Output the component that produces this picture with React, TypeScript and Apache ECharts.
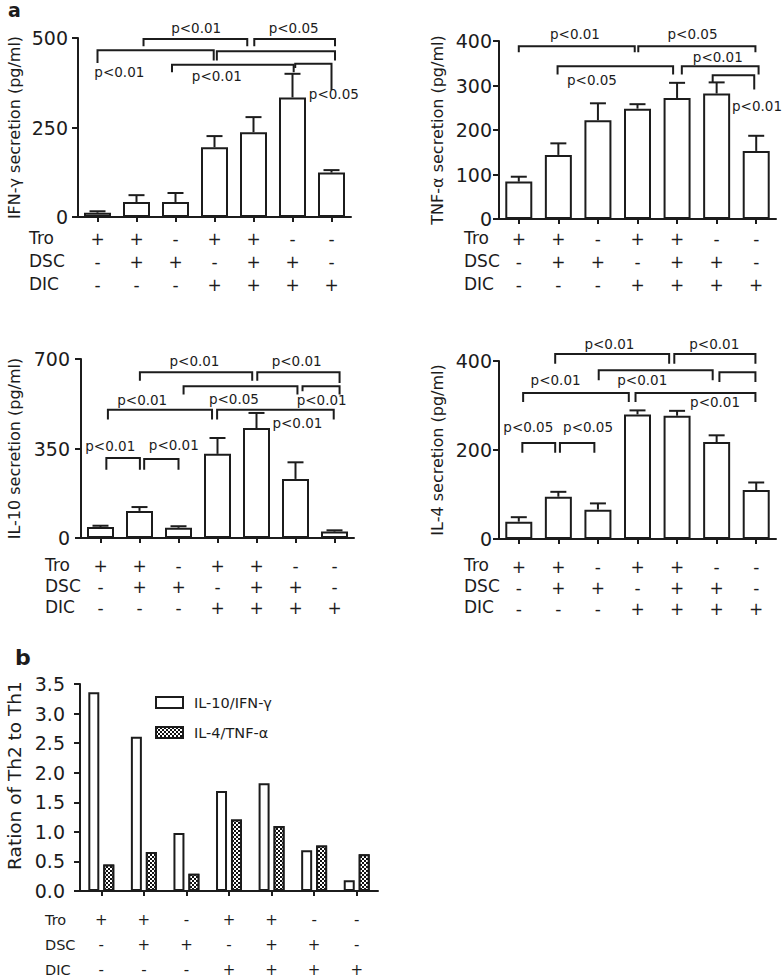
import React, { useEffect, useRef } from 'react';
import * as echarts from 'echarts';

// ---- condition table ----
const tro = ['+', '+', '-', '+', '+', '-', '-'];
const dsc = ['-', '+', '+', '-', '+', '+', '-'];
const dic = ['-', '-', '-', '+', '+', '+', '+'];
const rowNames = ['Tro', 'DSC', 'DIC'];
const conditionLabels = tro.map((t, i) => `${t}\n${dsc[i]}\n${dic[i]}`);

// ---- panel a values (mean, mean + SD) ----
const ifnMean = [12, 42, 42, 195, 237, 334, 124];
const ifnErr = [16, 61, 67, 226, 279, 400, 131];
const tnfMean = [84, 144, 222, 248, 272, 282, 153];
const tnfErr = [95, 170, 260, 258, 306, 307, 187];
const il10Mean = [43, 106, 40, 329, 430, 231, 25];
const il10Err = [48, 121, 46, 391, 489, 296, 30];
const il4Mean = [39, 95, 66, 280, 277, 218, 110];
const il4Err = [49, 106, 80, 289, 288, 233, 127];

// ---- panel b values ----
const ratioIl10Ifn = [3.36, 2.61, 0.98, 1.69, 1.82, 0.69, 0.18];
const ratioIl4Tnf = [0.45, 0.66, 0.29, 1.21, 1.1, 0.77, 0.62];

// ---- significance brackets: [x1, x2, y, leftEndY, rightEndY] (category index, value) ----
type Bracket = [number, number, number, number, number];
type PLabel = [number, number, string];

const ifnBrackets: Bracket[] = [
  [0, 2.98, 466, 430, 437],
  [1.18, 3.84, 497, 477, 477],
  [4.02, 6.09, 497, 477, 477],
  [3.06, 6.09, 463, 437, 437],
  [1.91, 5.03, 425, 404, 404],
  [5.07, 6.0, 428, 416, 355],
];
const ifnLabels: PLabel[] = [
  [0.56, 404, 'p<0.01'],
  [2.53, 528, 'p<0.01'],
  [5.03, 528, 'p<0.05'],
  [3.06, 393, 'p<0.01'],
  [6.06, 344, 'p<0.05'],
];
const tnfBrackets: Bracket[] = [
  [0, 2.93, 388, 375, 375],
  [3.02, 5.98, 388, 375, 375],
  [0.98, 3.9, 343, 325, 325],
  [4.12, 6.06, 343, 325, 325],
  [4.9, 5.95, 323, 306, 291],
];
const tnfLabels: PLabel[] = [
  [1.42, 416, 'p<0.01'],
  [4.39, 416, 'p<0.05'],
  [1.85, 312, 'p<0.05'],
  [5.03, 364, 'p<0.01'],
  [6.02, 254, 'p<0.01'],
];
const il10Brackets: Bracket[] = [
  [1.01, 3.89, 648, 615, 615],
  [4.02, 6.13, 648, 615, 606],
  [2.13, 5.05, 593, 561, 561],
  [5.18, 6.13, 593, 574, 561],
  [0.19, 2.86, 502, 463, 463],
  [2.99, 5.98, 502, 463, 463],
  [0.15, 1.01, 313, 267, 267],
  [1.12, 2.0, 309, 267, 267],
];
const il10Labels: PLabel[] = [
  [2.41, 691, 'p<0.01'],
  [5.03, 691, 'p<0.01'],
  [3.42, 545, 'p<0.05'],
  [1.07, 541, 'p<0.01'],
  [5.05, 450, 'p<0.01'],
  [5.67, 541, 'p<0.01'],
  [0.25, 358, 'p<0.01'],
  [1.88, 365, 'p<0.01'],
];
const il4Brackets: Bracket[] = [
  [0.92, 3.8, 416, 394, 394],
  [3.93, 5.98, 416, 394, 394],
  [2.02, 4.9, 379, 357, 357],
  [5.07, 5.98, 375, 353, 353],
  [0.11, 2.78, 328, 308, 308],
  [2.95, 5.98, 328, 308, 308],
  [0.09, 0.92, 216, 194, 194],
  [1.04, 1.91, 216, 194, 194],
];
const il4Labels: PLabel[] = [
  [2.29, 439, 'p<0.01'],
  [4.94, 439, 'p<0.01'],
  [0.93, 358, 'p<0.01'],
  [3.12, 357, 'p<0.01'],
  [4.96, 308, 'p<0.01'],
  [0.24, 252, 'p<0.05'],
  [1.75, 252, 'p<0.05'],
];

const FONT = 'DejaVu Sans';
const INK = '#1c1c1c';

const panels = [
  {
    name: 'IFN-γ secretion (pg/ml)', mean: ifnMean, err: ifnErr, brackets: ifnBrackets, labels: ifnLabels,
    max: 500, interval: 250,
    grid: { left: 78, top: 38, width: 273, height: 179 },
    nameGap: 56, tickMargin: 10, rowMargin: 10, lineHeight: 23, rowX: 29, rowY0: 239,
  },
  {
    name: 'TNF-α secretion (pg/ml)', mean: tnfMean, err: tnfErr, brackets: tnfBrackets, labels: tnfLabels,
    max: 400, interval: 100,
    grid: { left: 499, top: 41, width: 277, height: 178 },
    nameGap: 54, tickMargin: 7, rowMargin: 8.5, lineHeight: 23, rowX: 464, rowY0: 239,
  },
  {
    name: 'IL-10 secretion (pg/ml)', mean: il10Mean, err: il10Err, brackets: il10Brackets, labels: il10Labels,
    max: 700, interval: 350,
    grid: { left: 81, top: 359, width: 273, height: 179 },
    nameGap: 59, tickMargin: 11, rowMargin: 18, lineHeight: 20.7, rowX: 45, rowY0: 566.7,
  },
  {
    name: 'IL-4 secretion (pg/ml)', mean: il4Mean, err: il4Err, brackets: il4Brackets, labels: il4Labels,
    max: 400, interval: 200,
    grid: { left: 499, top: 361, width: 277, height: 178 },
    nameGap: 54, tickMargin: 7, rowMargin: 17, lineHeight: 21, rowX: 464, rowY0: 566.7,
  },
];

const panelB = {
  grid: { left: 80, top: 684, width: 298, height: 207 },
  rowX: 45, rowY0: 920, lineHeight: 25, rowMargin: 16.5,
};

function buildOption(): any {
  const grids: any[] = [];
  const xAxes: any[] = [];
  const yAxes: any[] = [];
  const series: any[] = [];
  const graphics: any[] = [];

  const axisLine = { show: true, onZero: false, lineStyle: { color: INK, width: 2 } };

  panels.forEach((p, i) => {
    grids.push({ ...p.grid, containLabel: false, outerBoundsMode: 'none' });
    xAxes.push({
      type: 'category', gridIndex: i, data: conditionLabels,
      axisLine, axisTick: { show: true, alignWithLabel: true, length: 5, lineStyle: { color: INK, width: 2 } },
      axisLabel: { interval: 0, margin: p.rowMargin, color: INK, fontFamily: FONT, fontSize: 17, lineHeight: p.lineHeight },
      splitLine: { show: false },
    });
    xAxes.push({ type: 'value', gridIndex: i, min: -0.5, max: 6.5, show: false, splitLine: { show: false } });
    yAxes.push({
      type: 'value', gridIndex: i, min: 0, max: p.max, interval: p.interval,
      name: p.name, nameLocation: 'middle', nameGap: p.nameGap,
      nameTextStyle: { color: INK, fontFamily: FONT, fontSize: 16 },
      axisLine, axisTick: { show: true, length: 6, lineStyle: { color: INK, width: 2 } },
      axisLabel: { margin: p.tickMargin, color: INK, fontFamily: FONT, fontSize: 19 },
      splitLine: { show: false },
    });
    series.push({
      type: 'bar', xAxisIndex: 2 * i, yAxisIndex: i, data: p.mean, barWidth: 27,
      itemStyle: { color: '#ffffff', borderColor: INK, borderWidth: 2 },
      z: 2,
    });
    const err = p.err;
    series.push({
      type: 'custom', xAxisIndex: 2 * i, yAxisIndex: i, clip: false, z: 3,
      encode: { x: 0, y: [1, 2] },
      data: p.mean.map((m, j) => [j, m, err[j]]),
      renderItem: (params: any, api: any) => {
        const x = api.value(0);
        const a = api.coord([x, api.value(1)]);
        const b = api.coord([x, api.value(2)]);
        const st = { stroke: INK, lineWidth: 2 };
        return {
          type: 'group',
          children: [
            { type: 'line', shape: { x1: a[0], y1: a[1], x2: b[0], y2: b[1] }, style: st },
            { type: 'line', shape: { x1: b[0] - 8, y1: b[1], x2: b[0] + 8, y2: b[1] }, style: st },
          ],
        };
      },
    });
    series.push({
      type: 'custom', xAxisIndex: 2 * i + 1, yAxisIndex: i, clip: false, z: 4,
      encode: { x: [0, 1], y: [2, 3, 4] },
      data: p.brackets,
      renderItem: (params: any, api: any) => {
        const x1 = api.value(0), x2 = api.value(1), y = api.value(2), yl = api.value(3), yr = api.value(4);
        const pts = [api.coord([x1, yl]), api.coord([x1, y]), api.coord([x2, y]), api.coord([x2, yr])];
        return { type: 'polyline', shape: { points: pts }, style: { stroke: INK, lineWidth: 2, fill: null } };
      },
    });
    const labels = p.labels;
    series.push({
      type: 'custom', xAxisIndex: 2 * i + 1, yAxisIndex: i, clip: false, z: 5,
      encode: { x: 0, y: 1 },
      data: labels.map((l) => [l[0], l[1]]),
      renderItem: (params: any, api: any) => {
        const c = api.coord([api.value(0), api.value(1)]);
        return {
          type: 'text', x: c[0], y: c[1],
          style: { text: labels[params.dataIndex][2], fill: INK, fontFamily: FONT, fontSize: 13.5, align: 'center', verticalAlign: 'middle' },
        };
      },
    });
    rowNames.forEach((r, k) => {
      graphics.push({
        type: 'text', left: p.rowX, top: p.rowY0 + k * p.lineHeight - 10,
        style: { text: r, fill: INK, fontFamily: FONT, fontSize: 17 },
      });
    });
  });

  // panel b
  const bi = 4;
  grids.push({ ...panelB.grid, containLabel: false, outerBoundsMode: 'none' });
  xAxes.push({
    type: 'category', gridIndex: bi, data: conditionLabels,
    axisLine, axisTick: { show: true, alignWithLabel: true, length: 5, lineStyle: { color: INK, width: 2 } },
    axisLabel: { interval: 0, margin: panelB.rowMargin, color: INK, fontFamily: FONT, fontSize: 15, lineHeight: panelB.lineHeight },
    splitLine: { show: false },
  });
  yAxes.push({
    type: 'value', gridIndex: bi, min: 0, max: 3.5, interval: 0.5,
    name: 'Ration of Th2 to Th1', nameLocation: 'middle', nameGap: 56,
    nameTextStyle: { color: INK, fontFamily: FONT, fontSize: 18.5, padding: [0, 0, 0, 24] },
    axisLine, axisTick: { show: true, length: 6, lineStyle: { color: INK, width: 2 } },
    axisLabel: { margin: 15, color: INK, fontFamily: FONT, fontSize: 19, formatter: (v: number) => v.toFixed(1) },
    splitLine: { show: false },
  });
  series.push({
    name: 'IL-10/IFN-γ', type: 'bar', xAxisIndex: 2 * bi, yAxisIndex: bi, data: ratioIl10Ifn,
    barWidth: 11, barGap: '36%',
    itemStyle: { color: '#ffffff', borderColor: INK, borderWidth: 2 },
  });
  series.push({
    name: 'IL-4/TNF-α', type: 'bar', xAxisIndex: 2 * bi, yAxisIndex: bi, data: ratioIl4Tnf,
    barWidth: 11, barGap: '36%',
    itemStyle: {
      color: '#111111', borderColor: INK, borderWidth: 2,
      decal: { symbol: 'rect', symbolSize: 1, color: '#ffffff', backgroundColor: '#111111', dashArrayX: [[2, 2], [0, 2, 2, 0]], dashArrayY: [2, 0] },
    },
  });
  rowNames.forEach((r, k) => {
    graphics.push({
      type: 'text', left: panelB.rowX, top: panelB.rowY0 + k * panelB.lineHeight - 8,
      style: { text: r, fill: INK, fontFamily: FONT, fontSize: 14.5 },
    });
  });

  graphics.push({ type: 'text', left: 8, top: 0, style: { text: 'a', fill: INK, fontFamily: FONT, fontSize: 19, fontWeight: 'bold' } });
  graphics.push({ type: 'text', left: 15, top: 646, style: { text: 'b', fill: INK, fontFamily: FONT, fontSize: 22, fontWeight: 'bold' } });

  return {
    animation: false,
    backgroundColor: '#ffffff',
    textStyle: { fontFamily: FONT, color: INK },
    grid: grids,
    xAxis: xAxes,
    yAxis: yAxes,
    legend: {
      show: true, orient: 'vertical', left: 150, top: 690, itemWidth: 27, itemHeight: 11, itemGap: 15,
      icon: 'rect', selectedMode: false,
      data: ['IL-10/IFN-γ', 'IL-4/TNF-α'],
      textStyle: { color: INK, fontFamily: FONT, fontSize: 14.5, padding: [0, 0, 0, 6] },
    },
    series,
    graphic: graphics,
  };
}

export default function App() {
  const ref = useRef<HTMLDivElement>(null);
  useEffect(() => {
    if (!ref.current) return;
    const chart = echarts.init(ref.current, undefined, { renderer: 'svg' });
    chart.setOption(buildOption());
    return () => chart.dispose();
  }, []);
  return <div ref={ref} style={{ position: 'absolute', left: 0, top: 0, width: 784, height: 980, background: '#fff' }} />;
}
